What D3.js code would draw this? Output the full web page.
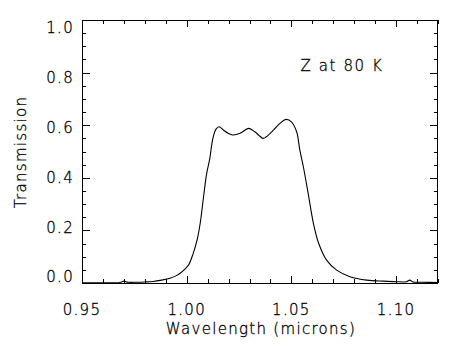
<!DOCTYPE html>
<html>
<head>
<meta charset="utf-8">
<script src="https://cdn.jsdelivr.net/npm/d3@7"></script>
<style>
  html, body { margin: 0; padding: 0; background: #fff; }
  svg { display: block; }
  text { font-family: "DejaVu Sans", sans-serif; font-weight: 200; fill: #000; stroke: #000; stroke-width: 0.3; }
</style>
</head>
<body>
<svg id="chart" width="461" height="355"></svg>
<script>
// ---- data ----
const wavelength = [0.950, 0.960, 0.968, 0.970, 0.972, 0.976, 0.980, 0.984, 0.988, 0.992, 0.995, 0.997, 0.999,
  1.001, 1.003, 1.005, 1.0065, 1.008, 1.0095, 1.011, 1.0125, 1.014, 1.0155, 1.0175, 1.020, 1.022, 1.0255,
  1.0295, 1.0325, 1.0365, 1.038, 1.0415, 1.0445, 1.0475, 1.050, 1.0525, 1.054, 1.0557, 1.058, 1.0605, 1.063,
  1.0668, 1.0716, 1.078, 1.086, 1.094, 1.100, 1.105, 1.1065, 1.108, 1.112, 1.120];
const transmission = [0.001, 0.001, 0.002, 0.007, 0.003, 0.003, 0.004, 0.006, 0.011, 0.018, 0.028, 0.038, 0.052,
  0.070, 0.110, 0.165, 0.230, 0.325, 0.415, 0.472, 0.550, 0.585, 0.594, 0.582, 0.568, 0.563, 0.569,
  0.588, 0.575, 0.550, 0.556, 0.582, 0.607, 0.622, 0.613, 0.575, 0.506, 0.442, 0.341, 0.227, 0.151,
  0.087, 0.049, 0.024, 0.011, 0.007, 0.005, 0.005, 0.011, 0.004, 0.003, 0.002];
const xTickLabels = ["0.95", "1.00", "1.05", "1.10"];
const yTickLabels = ["0.0", "0.2", "0.4", "0.6", "0.8", "1.0"];
const xTitle = "Wavelength (microns)";
const yTitle = "Transmission";
const annotation = "Z at 80 K";

// ---- layout ----
const pLeft = 82, pRight = 438, pTop = 20, pBottom = 283;
const svg = d3.select("#chart");

const x = d3.scaleLinear().domain([0.95, 1.12]).range([pLeft, pRight]);
const y = d3.scaleLinear().domain([0, 1]).range([pBottom, pTop]);
const yLabelPos = d3.scaleLinear().domain([0, 1]).range([277, 28]);

const xMajor = xTickLabels.map(Number);
const xMinor = d3.range(95, 113).map(v => v / 100).filter(v => !xMajor.some(m => Math.abs(m - v) < 1e-9));
const yMajor = yTickLabels.map(Number);
const yMinor = d3.range(0, 21).map(v => v / 20).filter(v => !yMajor.some(m => Math.abs(m - v) < 1e-9));

function tickAxis(axisFn, scale, values, size, tx, ty) {
  const g = svg.append("g").attr("transform", `translate(${tx},${ty})`)
    .call(axisFn(scale).tickValues(values).tickSizeInner(size).tickSizeOuter(0).tickFormat(""));
  g.select(".domain").remove();
  g.selectAll("line").attr("stroke", "#000").attr("stroke-width", 1).attr("shape-rendering", "crispEdges");
  return g;
}
tickAxis(d3.axisBottom, x, xMajor, -7, 0, pBottom);
tickAxis(d3.axisBottom, x, xMinor, -4, 0, pBottom);
tickAxis(d3.axisTop, x, xMajor, -7, 0, pTop);
tickAxis(d3.axisTop, x, xMinor, -4, 0, pTop);
tickAxis(d3.axisLeft, y, yMajor, -8, pLeft, 0);
tickAxis(d3.axisLeft, y, yMinor, -4, pLeft, 0);
tickAxis(d3.axisRight, y, yMajor, -8, pRight, 0);
tickAxis(d3.axisRight, y, yMinor, -4, pRight, 0);

// frame
svg.append("rect").attr("x", pLeft + 0.5).attr("y", pTop + 0.5)
  .attr("width", pRight - pLeft - 1).attr("height", pBottom - pTop)
  .attr("fill", "none").attr("stroke", "#000").attr("stroke-width", 1)
  .attr("shape-rendering", "crispEdges");

// tick labels
svg.append("g").selectAll("text").data(xTickLabels).join("text")
  .attr("x", d => x(+d)).attr("y", 315)
  .attr("text-anchor", "middle").attr("font-size", 15).attr("letter-spacing", 1.3)
  .text(d => d);
svg.append("g").selectAll("text").data(yTickLabels).join("text")
  .attr("x", 74).attr("y", d => yLabelPos(+d)).attr("dy", "0.36em")
  .attr("text-anchor", "end").attr("font-size", 15).attr("letter-spacing", 1.3)
  .text(d => d);

// titles
svg.append("text").attr("x", (pLeft + pRight) / 2 + 1).attr("y", 334)
  .attr("text-anchor", "middle").attr("font-size", 15).attr("letter-spacing", 1.3)
  .text(xTitle);
svg.append("text").attr("transform", "translate(26,152) rotate(-90)")
  .attr("text-anchor", "middle").attr("font-size", 15).attr("letter-spacing", 1.3)
  .text(yTitle);
svg.append("text").attr("x", 342).attr("y", 71)
  .attr("text-anchor", "middle").attr("font-size", 15).attr("letter-spacing", 1.6)
  .text(annotation);

// curve
const pts = wavelength.map((w, i) => [w, transmission[i]]);
const line = d3.line().x(d => x(d[0])).y(d => y(d[1])).curve(d3.curveCatmullRom.alpha(0.5));
svg.append("path").datum(pts).attr("d", line)
  .attr("fill", "none").attr("stroke", "#000").attr("stroke-width", 1.1);
</script>
</body>
</html>
